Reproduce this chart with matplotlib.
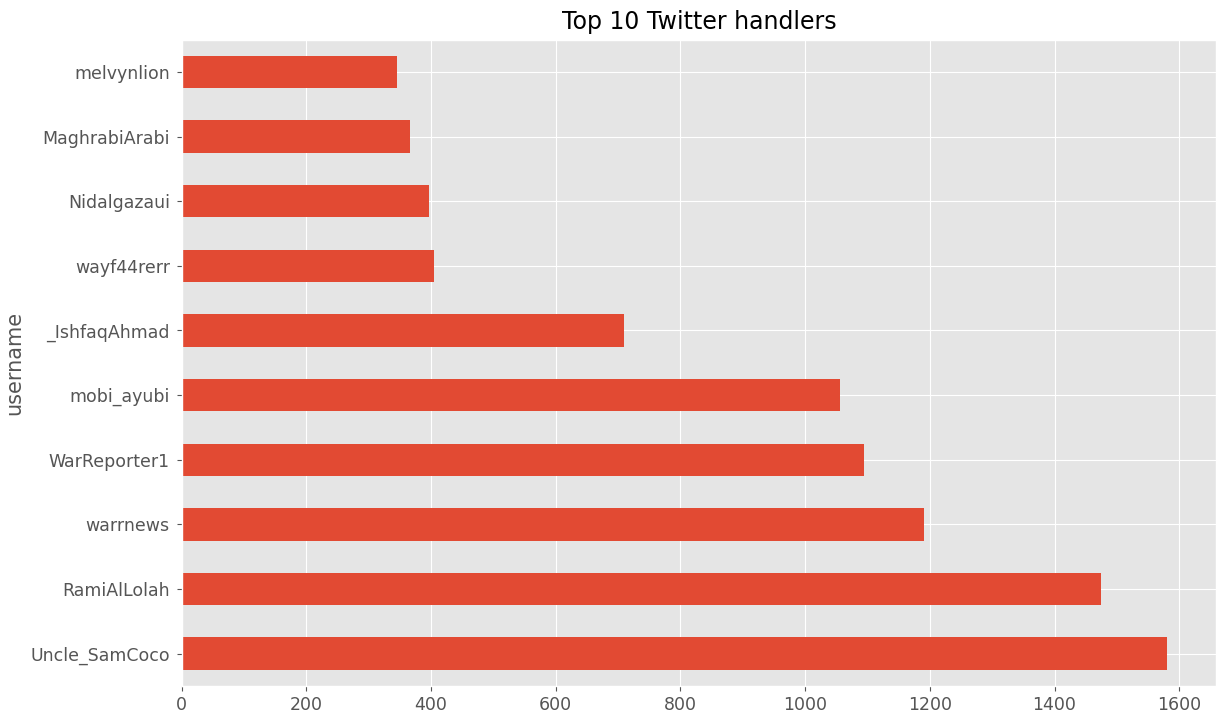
import matplotlib
matplotlib.use("Agg")
import matplotlib.pyplot as plt
import pandas as pd

# top handlers by tweet count
usernames = ["Uncle_SamCoco", "RamiAlLolah", "warrnews", "WarReporter1", "mobi_ayubi",
             "_IshfaqAhmad", "wayf44rerr", "Nidalgazaui", "MaghrabiArabi", "melvynlion"]
counts = [1580, 1475, 1191, 1095, 1056, 709, 404, 396, 366, 346]

plt.style.use("ggplot")

s = pd.Series(counts, index=pd.Index(usernames, name="username"))

fig, ax = plt.subplots(figsize=(12.3, 7.22), dpi=100)
s.plot(kind="barh", ax=ax, color="#E24A33")
ax.set_title("Top 10 Twitter handlers", fontsize=17, pad=8)
ax.set_ylabel("username", fontsize=15)
ax.tick_params(labelsize=12.5)
ax.tick_params(axis="y", pad=5)

fig.subplots_adjust(left=0.1477, right=0.9886, top=0.945, bottom=0.05)
fig.savefig("out.png", dpi=100)
